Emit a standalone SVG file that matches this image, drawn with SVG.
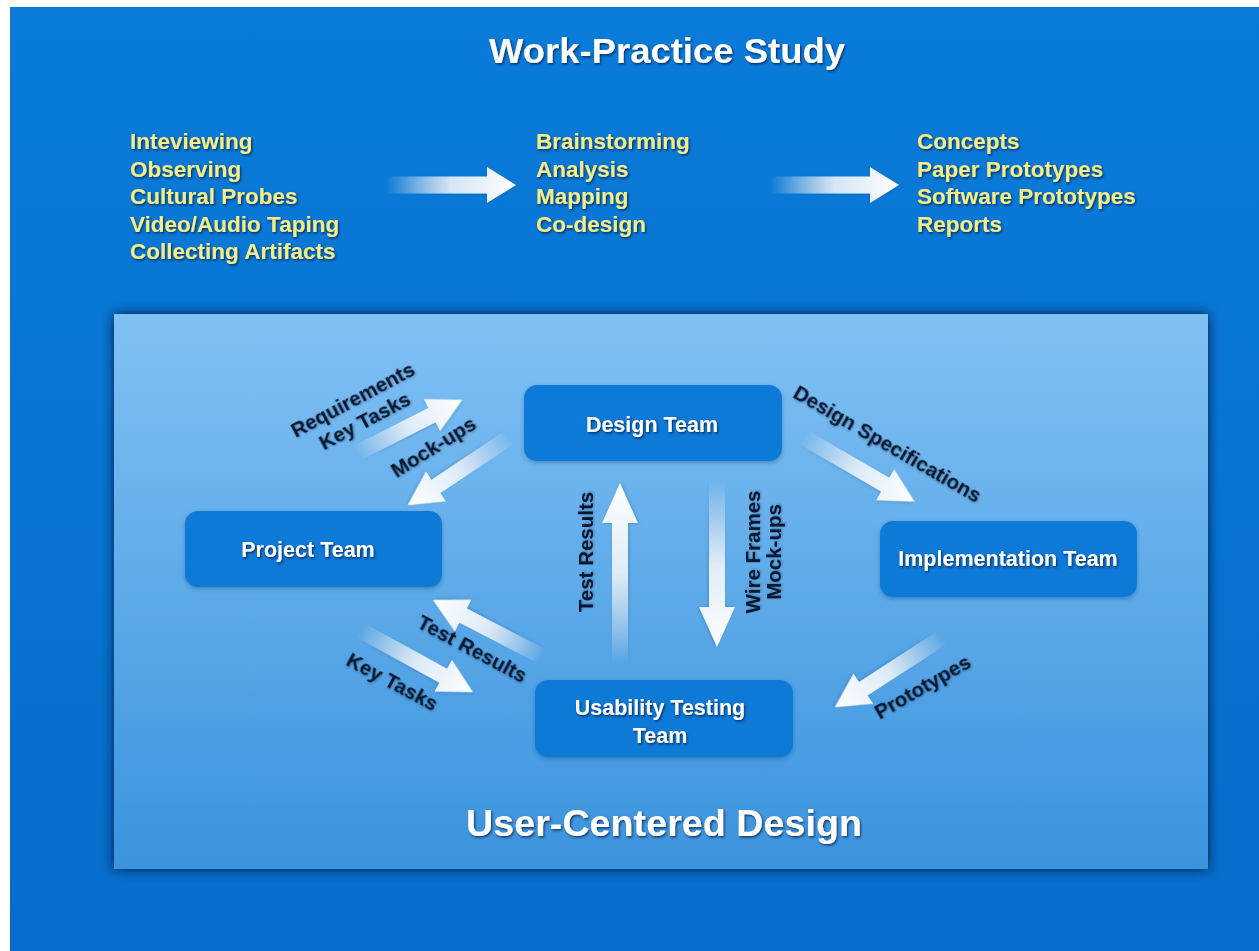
<svg xmlns="http://www.w3.org/2000/svg" width="1259" height="951" viewBox="0 0 1259 951">
<defs>
  <linearGradient id="bg" x1="0" y1="0" x2="0" y2="1">
    <stop offset="0" stop-color="#0a7bd9"/>
    <stop offset="1" stop-color="#066dca"/>
  </linearGradient>
  <linearGradient id="panel" x1="0" y1="0" x2="0" y2="1">
    <stop offset="0" stop-color="#80c1f4"/>
    <stop offset="1" stop-color="#3b93dd"/>
  </linearGradient>
  <linearGradient id="fade" x1="0" y1="0" x2="1" y2="0">
    <stop offset="0" stop-color="#ffffff" stop-opacity="0"/>
    <stop offset="0.5" stop-color="#f2f8fe" stop-opacity="0.85"/>
    <stop offset="1" stop-color="#ffffff" stop-opacity="1"/>
  </linearGradient>
  <filter id="panelShadow" x="-5%" y="-5%" width="110%" height="110%">
    <feDropShadow dx="0" dy="0" stdDeviation="6" flood-color="#001e40" flood-opacity="1"/>
  </filter>
  <filter id="nodeShadow" x="-10%" y="-20%" width="120%" height="140%">
    <feDropShadow dx="0" dy="2" stdDeviation="2" flood-color="#0a3a70" flood-opacity="0.35"/>
  </filter>
  <filter id="txtShadow" x="-10%" y="-30%" width="120%" height="160%">
    <feDropShadow dx="1.2" dy="1.5" stdDeviation="0.9" flood-color="#001a40" flood-opacity="0.75"/>
  </filter>
  <filter id="arrShadow" x="-20%" y="-50%" width="140%" height="200%">
    <feDropShadow dx="0" dy="1" stdDeviation="1.5" flood-color="#1a4f85" flood-opacity="0.35"/>
  </filter>
  <filter id="lblShadow" x="-10%" y="-30%" width="120%" height="160%">
    <feDropShadow dx="0.8" dy="1" stdDeviation="0.8" flood-color="#00142e" flood-opacity="0.35"/>
  </filter>
</defs>
<style>
  .title { font-family: "Liberation Sans", Arial, sans-serif; font-weight: bold; fill: #ffffff; filter: url(#txtShadow); }
  .yel { font-family: "Liberation Sans", Arial, sans-serif; font-weight: bold; font-size: 22.5px; fill: #f3ee88; filter: url(#txtShadow); }
  .node rect { fill: #0b7ad8; filter: url(#nodeShadow); }
  .node text { font-family: "Liberation Sans", Arial, sans-serif; font-weight: bold; font-size: 21.5px; fill: #ffffff; text-anchor: middle; filter: url(#txtShadow); }
  .arr { fill: url(#fade); filter: url(#arrShadow); }
  .lbl { font-family: "Liberation Sans", Arial, sans-serif; font-weight: bold; font-size: 20.5px; fill: #07162e; text-anchor: middle; filter: url(#lblShadow); }
</style>

<rect x="0" y="0" width="1259" height="951" fill="#ffffff"/>
<rect x="10" y="7" width="1249" height="944" fill="url(#bg)"/>

<g id="work-practice">
  <text class="title" x="667" y="63" font-size="35" text-anchor="middle" textLength="356" lengthAdjust="spacingAndGlyphs">Work-Practice Study</text>
  <g id="methods">
    <text class="yel" x="130" y="149">Inteviewing</text>
    <text class="yel" x="130" y="177">Observing</text>
    <text class="yel" x="130" y="204">Cultural Probes</text>
    <text class="yel" x="130" y="232">Video/Audio Taping</text>
    <text class="yel" x="130" y="259">Collecting Artifacts</text>
  </g>
  <g id="activities">
    <text class="yel" x="536" y="149">Brainstorming</text>
    <text class="yel" x="536" y="177">Analysis</text>
    <text class="yel" x="536" y="204">Mapping</text>
    <text class="yel" x="536" y="232">Co-design</text>
  </g>
  <g id="outputs">
    <text class="yel" x="917" y="149">Concepts</text>
    <text class="yel" x="917" y="177">Paper Prototypes</text>
    <text class="yel" x="917" y="204">Software Prototypes</text>
    <text class="yel" x="917" y="232">Reports</text>
  </g>
</g>

<g id="ucd-panel">
  <rect x="114" y="314" width="1094" height="555" fill="url(#panel)" filter="url(#panelShadow)"/>
  <text class="title" x="664" y="836" font-size="36" text-anchor="middle" textLength="396" lengthAdjust="spacingAndGlyphs">User-Centered Design</text>
</g>

<g id="connectors">
  <path class="arr" transform="translate(386,185)" d="M0,-8.5 H101 V-18 L130,0 L101,18 V8.5 H0 Z"/>
  <path class="arr" transform="translate(770,185)" d="M0,-8.5 H100 V-18 L129,0 L100,18 V8.5 H0 Z"/>

  <path class="arr" transform="translate(357,453) rotate(-26.8)" d="M0,-8 H84 V-18 L118,0 L84,18 V8 H0 Z"/>
  <path class="arr" transform="translate(510,437) rotate(146.3)" d="M0,-8 H89 V-18 L123,0 L89,18 V8 H0 Z"/>
  <path class="arr" transform="translate(803,437) rotate(30.1)" d="M0,-8 H95 V-18 L129,0 L95,18 V8 H0 Z"/>
  <path class="arr" transform="translate(543,657) rotate(-152.6)" d="M0,-8 H90 V-18 L124,0 L90,18 V8 H0 Z"/>
  <path class="arr" transform="translate(360,630) rotate(28.8)" d="M0,-8 H95 V-18 L129,0 L95,18 V8 H0 Z"/>
  <path class="arr" transform="translate(620,663) rotate(-90)" d="M0,-8 H140 V-18 L180,0 L140,18 V8 H0 Z"/>
  <path class="arr" transform="translate(717,480) rotate(90)" d="M0,-8 H127 V-18 L167,0 L127,18 V8 H0 Z"/>
  <path class="arr" transform="translate(943,637) rotate(147)" d="M0,-8 H95 V-18 L129,0 L95,18 V8 H0 Z"/>

  <g id="connector-labels">
    <text class="lbl" transform="translate(356,406) rotate(-28)">Requirements</text>
    <text class="lbl" transform="translate(368,427) rotate(-28)">Key Tasks</text>
    <text class="lbl" transform="translate(437,453) rotate(-32)">Mock-ups</text>
    <text class="lbl" transform="translate(884,450) rotate(30)">Design Specifications</text>
    <text class="lbl" transform="translate(469,655) rotate(28)">Test Results</text>
    <text class="lbl" transform="translate(389,688) rotate(28)">Key Tasks</text>
    <text class="lbl" transform="translate(926,693) rotate(-30)">Prototypes</text>
    <text class="lbl" transform="translate(593,552) rotate(-90)">Test Results</text>
    <text class="lbl" transform="translate(760,552) rotate(-90)">Wire Frames</text>
    <text class="lbl" transform="translate(781,552) rotate(-90)">Mock-ups</text>
  </g>
</g>

<g id="design-team" class="node">
  <rect x="524" y="385" width="258" height="76" rx="13"/>
  <text x="652" y="432">Design Team</text>
</g>
<g id="project-team" class="node">
  <rect x="185" y="511" width="257" height="76" rx="13"/>
  <text x="308" y="557">Project Team</text>
</g>
<g id="implementation-team" class="node">
  <rect x="880" y="521" width="257" height="76" rx="13"/>
  <text x="1008" y="566">Implementation Team</text>
</g>
<g id="usability-testing-team" class="node">
  <rect x="535" y="680" width="258" height="77" rx="13"/>
  <text x="660" y="715">Usability Testing</text>
  <text x="660" y="743">Team</text>
</g>
</svg>
